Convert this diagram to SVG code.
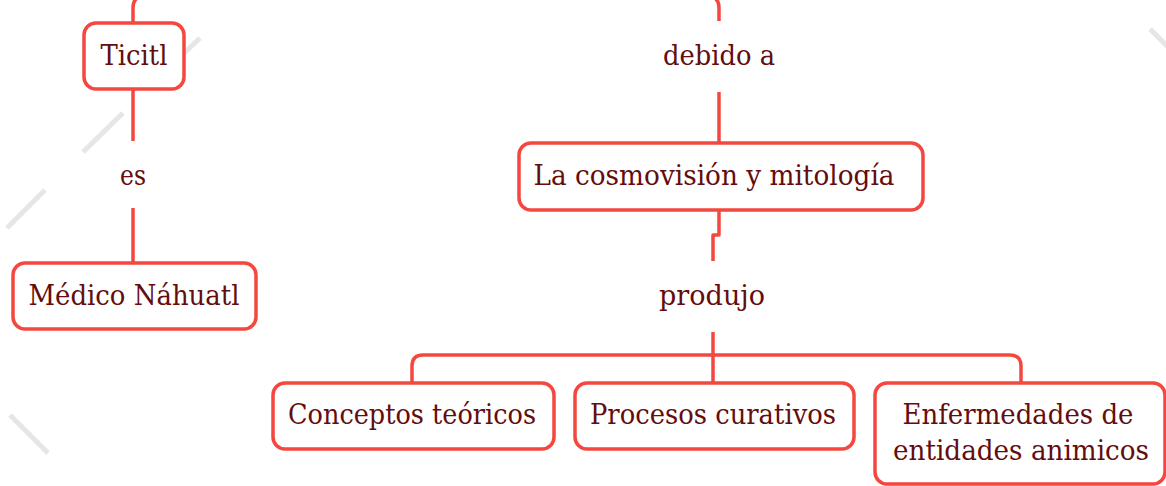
<svg xmlns="http://www.w3.org/2000/svg" width="1166" height="486" viewBox="0 0 1166 486">
<style>
.bg{stroke:#e6e6e8;stroke-width:5;fill:none}
.box{fill:#fff;stroke:#f4473f;stroke-width:3.5}
.ln{fill:none;stroke:#f4473f;stroke-width:3.5;stroke-linejoin:round}
.t{font-family:"DejaVu Serif","Liberation Serif",serif;font-size:28px;fill:#650d0d;text-anchor:middle}
</style>
<rect width="1166" height="486" fill="#fff"/>
<g id="background">
<line class="bg" x1="200" y1="38" x2="160" y2="76"/>
<line class="bg" x1="123" y1="113" x2="83" y2="152"/>
<line class="bg" x1="45" y1="190" x2="7" y2="228"/>
<line class="bg" x1="10" y1="415" x2="48" y2="453"/>
<line class="bg" x1="1150" y1="29" x2="1170" y2="49"/>
</g>
<g id="connectors">
<path class="ln" d="M133,23 V8 Q133,-4 145,-4 H300"/>
<path class="ln" d="M133,90 V141"/>
<path class="ln" d="M133,208 V262"/>
<path class="ln" d="M719,21 V8 Q719,-4 707,-4 H600"/>
<path class="ln" d="M719,92 V143"/>
<path class="ln" d="M719,210 V235 H713 V261"/>
<path class="ln" d="M713,332 V383"/>
<path class="ln" d="M412,383 V366 Q412,355 423,355 H1010 Q1021,355 1021,366 V383"/>
</g>
<g id="n-ticitl">
<rect class="box" x="84" y="23" width="100" height="66" rx="12"/>
<text class="t" x="134" y="65" textLength="67" lengthAdjust="spacingAndGlyphs">Ticitl</text>
</g>
<g id="l-es"><text class="t" x="133" y="185" textLength="26" lengthAdjust="spacingAndGlyphs">es</text></g>
<g id="n-medico">
<rect class="box" x="13" y="263" width="243" height="66" rx="12"/>
<text class="t" x="134" y="305" textLength="211" lengthAdjust="spacingAndGlyphs">Médico Náhuatl</text>
</g>
<g id="l-debido"><text class="t" x="719" y="65" textLength="112" lengthAdjust="spacingAndGlyphs">debido a</text></g>
<g id="n-cosmovision">
<rect class="box" x="519" y="143" width="404" height="67" rx="12"/>
<text class="t" x="714" y="185" textLength="361" lengthAdjust="spacingAndGlyphs">La cosmovisión y mitología</text>
</g>
<g id="l-produjo"><text class="t" x="712" y="305" textLength="106" lengthAdjust="spacingAndGlyphs">produjo</text></g>
<g id="n-conceptos">
<rect class="box" x="273" y="383" width="281" height="66" rx="12"/>
<text class="t" x="412" y="424" textLength="248" lengthAdjust="spacingAndGlyphs">Conceptos teóricos</text>
</g>
<g id="n-procesos">
<rect class="box" x="575" y="383" width="279" height="66" rx="12"/>
<text class="t" x="713" y="424" textLength="246" lengthAdjust="spacingAndGlyphs">Procesos curativos</text>
</g>
<g id="n-enfermedades">
<rect class="box" x="875" y="383" width="290" height="101" rx="12"/>
<text class="t" x="1018" y="424" textLength="231" lengthAdjust="spacingAndGlyphs">Enfermedades de</text>
<text class="t" x="1021" y="460" textLength="256" lengthAdjust="spacingAndGlyphs">entidades animicos</text>
</g>
</svg>
